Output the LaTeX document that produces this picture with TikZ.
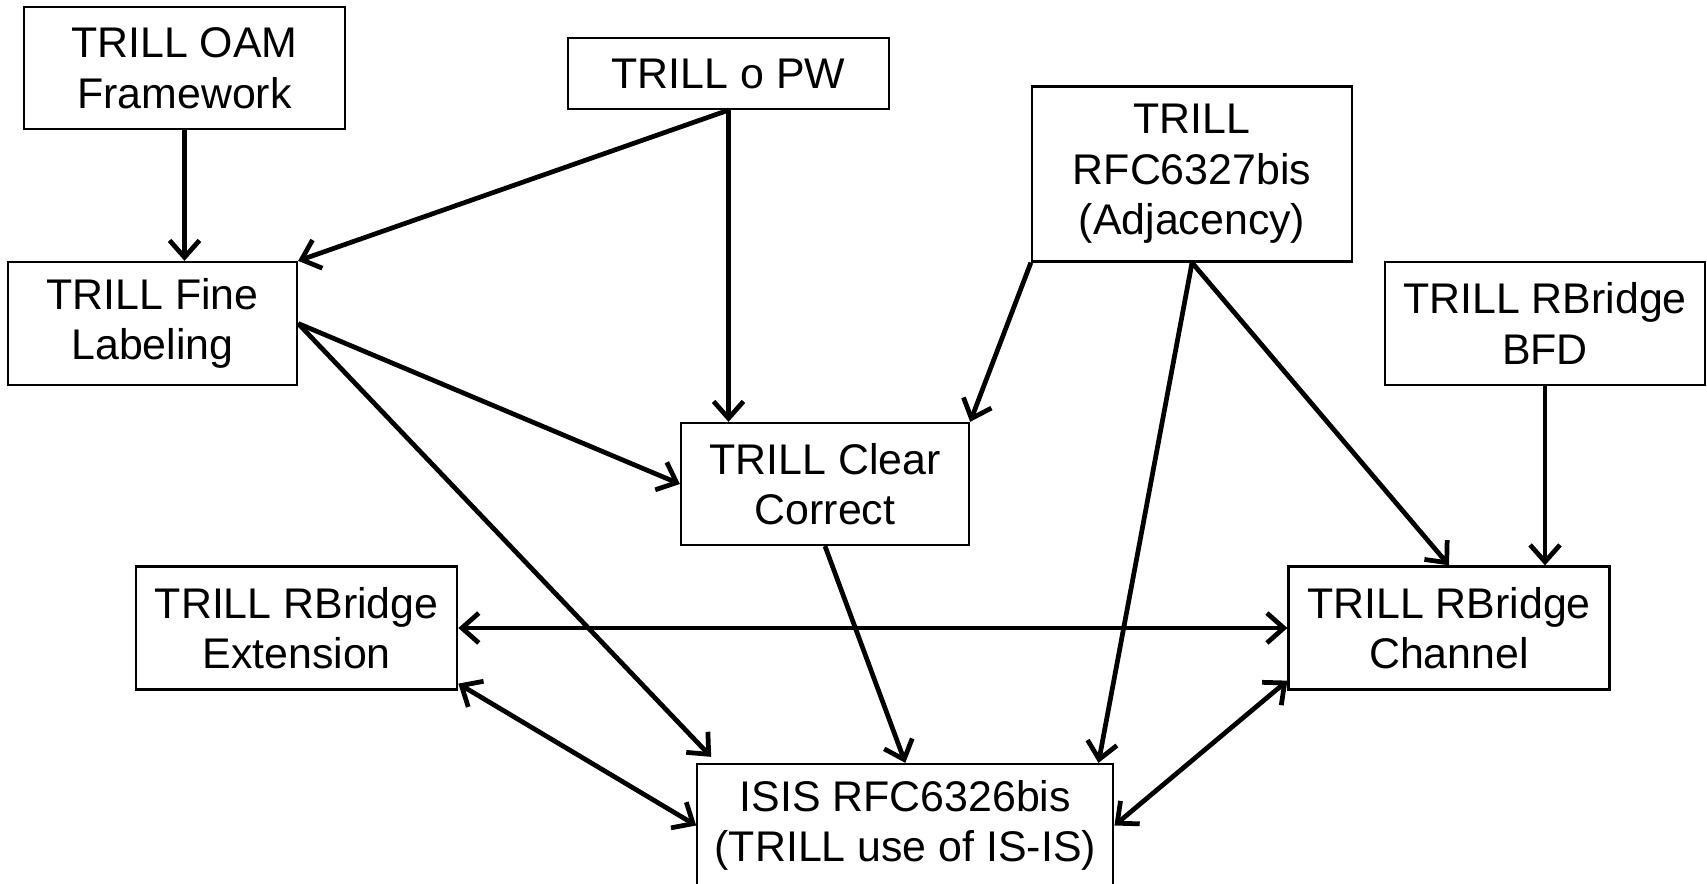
\documentclass[tikz,border=0pt]{standalone}
\usepackage{fontspec}
\setmainfont{Liberation Sans}
\usetikzlibrary{arrows.meta}
\tikzset{
  boite/.style={draw, line width=0.65pt, rectangle, align=center, inner sep=0pt,
    minimum height=1.23cm, font=\fontsize{12.2pt}{14.4pt}\selectfont},
  lien/.style={line width=1.35pt}
}
\begin{document}
\begin{tikzpicture}[>={Straight Barb[length=4.8pt,width=8.5pt]}]
\useasboundingbox (0,0) rectangle (17.07,-8.84);
\node(OAM)[boite, minimum width=3.21cm, minimum height=1.22cm] at (1.845,-0.68){TRILL OAM\\Framework};
\node(PW)[boite, minimum width=3.21cm, minimum height=0.71cm] at (7.285,-0.735){TRILL o PW};
\node(Adj)[boite, minimum width=3.20cm, minimum height=1.75cm] at (11.92,-1.74){TRILL\\RFC6327bis\\(Adjacency)};
\node(Fine)[boite, minimum width=2.89cm] at (1.525,-3.235){TRILL Fine\\Labeling};
\node(BFD)[boite, minimum width=3.20cm] at (15.45,-3.235){TRILL RBridge\\BFD};
\node(Clear)[boite, minimum width=2.88cm, minimum height=1.22cm] at (8.25,-4.84){TRILL Clear\\Correct};
\node(Ext)[boite, minimum width=3.21cm] at (2.967,-6.28){TRILL RBridge\\Extension};
\node(Chan)[boite, minimum width=3.21cm] at (14.49,-6.28){TRILL RBridge\\Channel};
\node(ISIS)[boite, minimum width=4.16cm] at (9.053,-8.255){ISIS RFC6326bis\\(TRILL use of IS-IS)};

\draw[lien] (OAM.south) edge[->] (OAM.south |- Fine.north);
\draw[lien] (PW.south) edge[->] (Fine.north east);
\draw[lien] (PW.south) edge[->] (PW.south |- Clear.north);
\draw[lien] (Adj.south west) edge[->] (Clear.north east);
\draw[lien] (Adj.south) edge[->] ([xshift=-0.16cm]ISIS.north east);
\draw[lien] (Adj.south) edge[->] (Chan.north);
\draw[lien] (BFD.south) edge[->] (BFD.south |- Chan.north);
\draw[lien] (Fine.east) edge[->] (Clear.west);
\draw[lien] (Fine.east) edge[->] ([xshift=0.15cm,yshift=0.06cm]ISIS.north west);
\draw[lien] (Clear.south) edge[->] (ISIS.north);
\draw[lien] (Ext.east) edge[<->] (Chan.west);
\draw[lien] ([yshift=0.07cm]Ext.south east) edge[<->] (ISIS.west);
\draw[lien] ([yshift=0.1cm]Chan.south west) edge[<->] (ISIS.east);
\end{tikzpicture}
\end{document}
